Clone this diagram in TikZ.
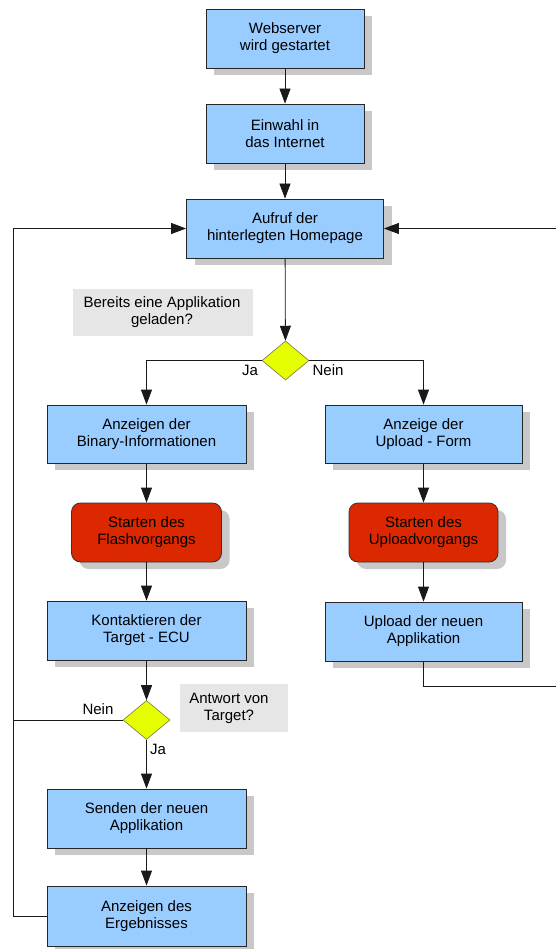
\documentclass[tikz,border=0pt]{standalone}
\usepackage{fontspec}
\setmainfont{Liberation Sans}
\usetikzlibrary{shapes.geometric,shadows,arrows.meta}

\definecolor{boxblue}{HTML}{99CCFF}
\definecolor{boxred}{HTML}{DC2800}
\definecolor{shadowgrey}{HTML}{C8C8C8}
\definecolor{decyellow}{HTML}{E6FF00}
\definecolor{notegrey}{HTML}{E6E6E6}

\tikzset{
  every node/.style={font=\fontsize{15}{17}\selectfont, align=center},
  boxshadow/.style={drop shadow={shadow xshift=8pt, shadow yshift=-7pt, fill=shadowgrey, opacity=1}},
  stepbox/.style={draw=black!85, line width=0.8pt, fill=boxblue, inner sep=0pt, boxshadow},
  actionbox/.style={draw=black!80, line width=0.8pt, fill=boxred, rounded corners=9pt, inner sep=0pt, boxshadow},
  decision/.style={diamond, draw=black!60!yellow, line width=0.6pt, fill=decyellow, inner sep=0pt, minimum width=47pt, minimum height=39pt},
  note/.style={fill=notegrey, inner sep=0pt},
  flow/.style={draw=black!90, line width=0.8pt},
  arr/.style={flow, -{Triangle[length=15pt, width=11pt]}},
}

\begin{document}
\begin{tikzpicture}[x=1pt, y=-1pt]
  \clip (0,0) rectangle (556,949);
  \fill[white] (0,0) rectangle (556,949);

  % main column
  \node[stepbox, minimum width=158pt, minimum height=59pt] (web) at (285,38.5) {Webserver\\wird gestartet};
  \node[stepbox, minimum width=158pt, minimum height=59pt] (dial) at (285,133.5) {Einwahl in\\das Internet};
  \node[stepbox, minimum width=197pt, minimum height=59pt] (home) at (285,228.5) {Aufruf der\\hinterlegten Homepage};

  % first decision
  \fill[notegrey] (73,289) rectangle (253,336);
  \node (q1) at (162,312) {Bereits eine Applikation\\geladen?};
  \node[decision] (d1) at (285.5,360.5) {};
  \node (ja1) at (250,370) {Ja};
  \node (nein1) at (328,370) {Nein};

  % left branch
  \node[stepbox, minimum width=199pt, minimum height=58pt] (bin) at (146.5,434) {Anzeigen der\\Binary-Informationen};
  \node[actionbox, minimum width=150pt, minimum height=59pt] (flash) at (146.5,532.5) {Starten des\\Flashvorgangs};
  \node[stepbox, minimum width=199pt, minimum height=59pt] (ecu) at (146.5,630.5) {Kontaktieren der\\Target - ECU};

  % second decision
  \fill[notegrey] (180,684) rectangle (288,732);
  \node (q2) at (229,708) {Antwort von\\Target?};
  \node[decision] (d2) at (146.5,720) {};
  \node (nein2) at (98,709) {Nein};
  \node (ja2) at (158,749) {Ja};

  \node[stepbox, minimum width=199pt, minimum height=59pt] (send) at (146.5,818.5) {Senden der neuen\\Applikation};
  \node[stepbox, minimum width=199pt, minimum height=60pt] (res) at (146.5,916) {Anzeigen des\\Ergebnisses};

  % right branch
  \node[stepbox, minimum width=197pt, minimum height=58pt] (form) at (423.5,434) {Anzeige der\\Upload - Form};
  \node[actionbox, minimum width=149pt, minimum height=59pt] (upstart) at (423.5,532.5) {Starten des\\Uploadvorgangs};
  \node[stepbox, minimum width=197pt, minimum height=59pt] (upload) at (423.5,631.5) {Upload der neuen\\Applikation};

  % routing points of the return lines
  \coordinate (railtop) at (13,228.5);
  \coordinate (railbot) at (13,916);
  \coordinate (rturn) at (423.5,686);
  \coordinate (redge) at (580,686);
  \coordinate (redgetop) at (580,228.5);

  % connectors
  \draw[arr] (web) -- (dial);
  \draw[arr] (dial) -- (home);
  \draw[arr] (home) -- (d1);
  \draw[arr] (d1.west) -| (bin.north);
  \draw[arr] (d1.east) -| (form.north);
  \draw[arr] (bin) -- (flash);
  \draw[arr] (flash) -- (ecu);
  \draw[arr] (ecu) -- (d2);
  \draw[arr] (d2) -- (send);
  \draw[arr] (send) -- (res);
  \draw[arr] (form) -- (upstart);
  \draw[arr] (upstart) -- (upload);
  \draw[flow] (d2.west) -- (d2.west -| railtop);
  \draw[arr] (res.west) -- (railbot) -- (railtop) -- (home.west);
  \draw[arr] (upload.south) -- (rturn) -- (redge) -- (redgetop) -- (home.east);
\end{tikzpicture}
\end{document}
